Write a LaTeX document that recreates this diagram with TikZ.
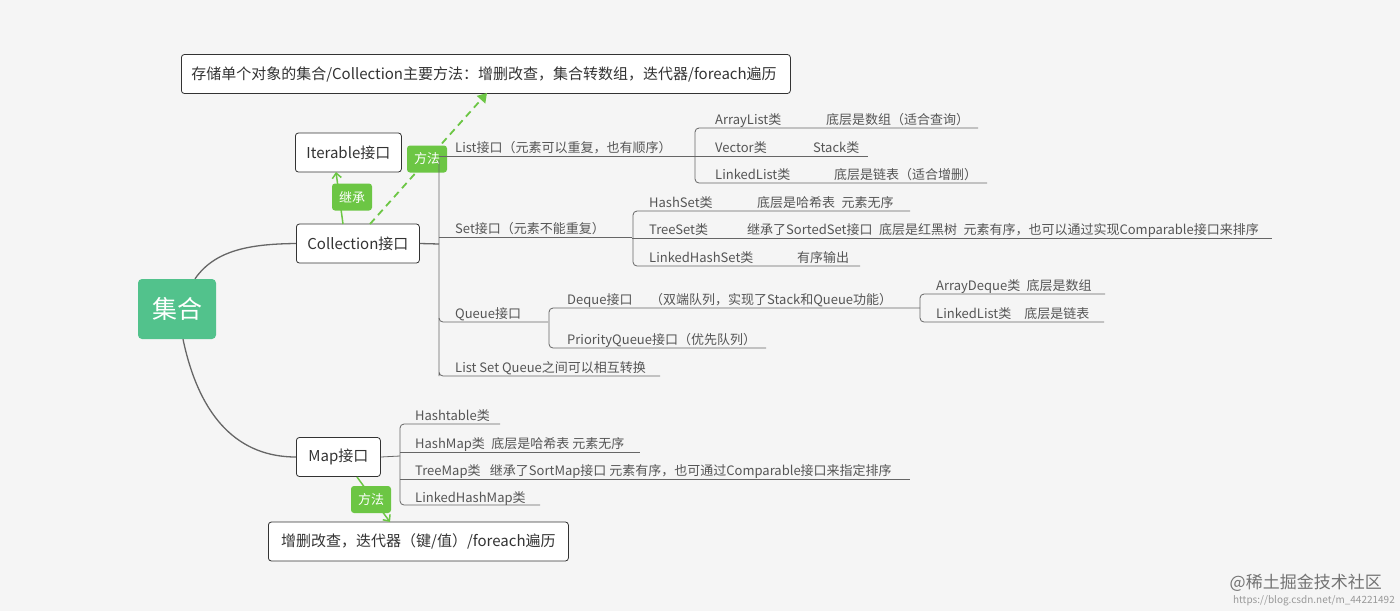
\documentclass[tikz,border=0pt]{standalone}
\usepackage{fontspec}
\setmainfont{Noto Sans CJK SC}
\usetikzlibrary{arrows.meta}
\definecolor{bg}{HTML}{F5F5F5}
\definecolor{ln}{HTML}{666666}
\definecolor{tx}{HTML}{555555}
\definecolor{bx}{HTML}{333333}
\definecolor{lab}{HTML}{6CC644}
\definecolor{root}{HTML}{52C28C}
\tikzset{
  box/.style={draw=bx,fill=white,rounded corners=3pt,line width=0.8pt,text=bx,font=\fontsize{15}{17}\selectfont,inner xsep=10pt,inner ysep=0pt,minimum height=39pt,anchor=west},
  lbl/.style={fill=lab,rounded corners=3pt,text=white,font=\fontsize{13}{15}\selectfont,inner sep=0pt,minimum width=40pt,minimum height=27pt},
  leaf/.style={anchor=base west,text=tx,font=\fontsize{13}{15}\selectfont,inner sep=0pt},
  br/.style={draw=ln,line width=0.8pt,rounded corners=4pt},
  cv/.style={draw=ln,line width=1.3pt}
}
\begin{document}
\begin{tikzpicture}[x=1pt,y=-1pt]
\fill[bg] (0,0) rectangle (1400,611);
\useasboundingbox (0,0) rectangle (1400,611);
% main boxes
\node[box,minimum width=609pt,align=left,text width=589pt] (top) at (181,74) {存储单个对象的集合/Collection主要方法：增删改查，集合转数组，迭代器/foreach遍历};
\node[box,minimum width=106pt] (iter) at (295,152.5) {Iterable接口};
\node[box,minimum width=123pt] (coll) at (296,243.5) {Collection接口};
\node[fill=root,rounded corners=4pt,text=white,font=\fontsize{25}{28}\selectfont,minimum width=78pt,minimum height=60pt,inner sep=0pt] (root) at (177,309) {集合};
\node[box,minimum width=84pt] (map) at (296,457) {Map接口};
\node[box,minimum width=300pt] (bot) at (268,541.5) {增删改查，迭代器（键/值）/foreach遍历};
% root curves
\draw[cv] (root.north)+(18,0) .. controls (215,250) and (250,244) .. (coll.west);
\draw[cv] (root.south)+(6,0) .. controls (200,420) and (240,457) .. (map.west);
% inherit
\coordinate (ci) at (343,224);
\coordinate (ii) at (336,172);
\draw[lab,line width=1.5pt,-{Straight Barb[length=5pt,width=9pt]}] (ci) -- (ii);
\node[lbl] (jc) at (352,197) {继承};
% dashed method
\coordinate (cd) at (370,224);
\coordinate (td) at (487,93);
\draw[lab,line width=1.8pt,dash pattern=on 7pt off 5pt,-{Triangle[length=9pt,width=11pt]}] (cd) -- (td);
\node[lbl] (ff1) at (427,159) {方法};
% map method
\coordinate (mm) at (357,477);
\coordinate (bm) at (390,522);
\draw[lab,line width=1.5pt,-{Straight Barb[length=5pt,width=9pt]}] (mm) -- (bm);
\node[lbl] (ff2) at (371,499.5) {方法};
% collection branches
\coordinate (cv) at (439,244);
\draw[ln,line width=1.3pt] (coll.east) -- (cv);
\draw[br] (439,160) -- (439,372) -- ++(0,4) -- (660,376);
\draw[br] (439,318) -- (439,322) -- (548,322);
\draw[ln,line width=0.8pt] (439,156) -- (695,156);
\draw[ln,line width=0.8pt] (439,237) -- (632,237);
\node[leaf] (L) at (455,152) {List接口（元素可以重复，也有顺序）};
\node[leaf] (S) at (455,233) {Set接口（元素不能重复）};
\node[leaf] (Q) at (455,318) {Queue接口};
\node[leaf] (LSQ) at (455,372) {List Set Queue之间可以相互转换};
% List children
\draw[br] (978,128) -- (695,128) -- (695,183) -- (987,183);
\draw[ln,line width=0.8pt] (695,156) -- (868,156);
\node[leaf] (al) at (715,124) {ArrayList类};
\node[leaf] (al2) at (826,124) {底层是数组（适合查询）};
\node[leaf] (vec) at (715,152) {Vector类};
\node[leaf] (stk) at (813,152) {Stack类};
\node[leaf] (ll) at (715,179) {LinkedList类};
\node[leaf] (ll2) at (834,179) {底层是链表（适合增删）};
% Set children
\draw[br] (910,211) -- (633,211) -- (633,266) -- (860,266);
\draw[ln,line width=0.8pt] (632,238) -- (1272,238);
\node[leaf] (hs) at (649,207) {HashSet类};
\node[leaf] (hs2) at (757,207) {底层是哈希表\enspace 元素无序};
\node[leaf] (ts) at (649,234) {TreeSet类};
\node[leaf] (ts2) at (747,234) {继承了SortedSet接口\enspace 底层是红黑树\enspace 元素有序，也可以通过实现Comparable接口来排序};
\node[leaf] (lhs) at (649,262) {LinkedHashSet类};
\node[leaf] (lhs2) at (797,262) {有序输出};
% Queue children
\draw[br] (920,308) -- (549,308) -- (549,348) -- (766,348);
\node[leaf] (dq) at (567,304) {Deque接口};
\node[leaf] (dq2) at (650,304) {（双端队列，实现了Stack和Queue功能）};
\node[leaf] (pq) at (567,344) {PriorityQueue接口（优先队列）};
% Deque children
\draw[br] (1105,294) -- (920,294) -- (920,322) -- (1104,322);
\node[leaf] (ad) at (936,290) {ArrayDeque类\enspace 底层是数组};
\node[leaf] (dl) at (936,318) {LinkedList类\quad 底层是链表};
% Map children
\draw[ln,line width=0.8pt] (map.east) -- (400,456);
\draw[br] (500,424) -- (400,424) -- (400,505) -- (540,505);
\draw[ln,line width=0.8pt] (400,452) -- (640,452);
\draw[ln,line width=0.8pt] (400,479) -- (910,479);
\node[leaf] (ht) at (415,420) {Hashtable类};
\node[leaf] (hm) at (415,448) {HashMap类\enspace 底层是哈希表 元素无序};
\node[leaf] (tm) at (415,475) {TreeMap类\enspace\ 继承了SortMap接口 元素有序，也可通过Comparable接口来指定排序};
\node[leaf] (lhm) at (415,502) {LinkedHashMap类};
% watermark
\node[anchor=base east,text=black!40,font=\fontsize{10}{12}\selectfont,inner sep=0pt] (url) at (1395,603) {https://blog.csdn.net/m\_44221492};
\node[anchor=base east,text=black!55,font=\fontsize{17}{19}\selectfont,inner sep=0pt] (wm) at (1382,588) {@稀土掘金技术社区};
\end{tikzpicture}
\end{document}
